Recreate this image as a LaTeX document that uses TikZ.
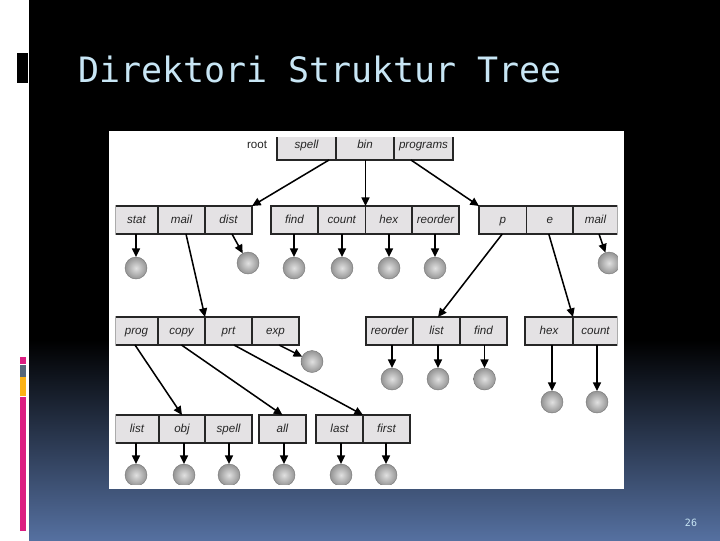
\documentclass[tikz,border=0pt]{standalone}
\usepackage{fontspec}
\setmainfont{Liberation Sans}
\newfontfamily\titlefont{DejaVu Sans Mono}
\usetikzlibrary{arrows.meta,shadings}
\definecolor{slideblue}{HTML}{5570A0}
\definecolor{titleblue}{HTML}{C8E6F5}
\definecolor{cellfill}{HTML}{E4E2E4}
\definecolor{barpink}{HTML}{DC1E82}
\definecolor{bargrey}{HTML}{56677A}
\definecolor{barorange}{HTML}{FCB316}
\def\px{0.75pt}
\tikzset{
  cellbox/.style={draw=black!85,line width=0.9pt,fill=cellfill,inner sep=0pt,outer sep=0pt,
    font=\fontsize{8.7}{10}\selectfont\itshape,text=black!85,text height=6.5pt,text depth=1.8pt},
  ballnode/.style={circle,draw=black!55,line width=0.3pt,inner sep=0pt,outer sep=0pt,minimum size=16.5pt,
    inner color=black!12,outer color=black!42},
  arr/.style={line width=1.15pt,draw=black,-{Triangle[length=6.5pt,width=6pt]},shorten >=0pt},
  flatbox/.style={draw=none,inner sep=0pt,outer sep=0pt}
}
\newcommand{\mycell}[6]{\node[cellbox,minimum width={(#3-#2)*0.75pt},minimum height={#5*0.75pt}] (#1) at ({(#2+#3)/2},{#4+#5/2}) {#6};}
\newcommand{\myball}[3]{\node[ballnode] (#1) at (#2,#3) {};}
\begin{document}
\begin{tikzpicture}[x=0.75pt,y=-0.75pt]
\useasboundingbox (0,0) rectangle (720,540);
% slide background
\fill[white] (0,0) rectangle (720,540);
\fill[black] (29,0) rectangle (720,341);
\shade[top color=black,bottom color=slideblue] (29,340) rectangle (720,540);
\fill[black] (17,53) rectangle (28,83);
\fill[barpink] (20,357) rectangle (26,364);
\fill[bargrey] (20,365) rectangle (26,377);
\fill[barorange] (20,377) rectangle (26,396);
\fill[barpink] (20,397) rectangle (26,531);
\node[flatbox,anchor=base west,text=titleblue,font=\titlefont\fontsize{26.2}{30}\selectfont] (title) at (78,82) {Direktori Struktur Tree};
\node[flatbox,text=titleblue,font=\titlefont\fontsize{7.5}{9}\selectfont] (pagenum) at (691,523) {26};
% white figure panel
\fill[white] (109,131) rectangle (624,489);
\begin{scope}
\clip (115.7,137.7) rectangle (617.3,484);
% row 1
\mycell{spell}{277}{336}{131}{29}{spell}
\mycell{bin}{336}{394}{131}{29}{bin}
\mycell{programs}{394}{453}{131}{29}{programs}
% row 2
\mycell{stat}{115}{158}{206}{28}{stat}
\mycell{mailA}{158}{205}{206}{28}{mail}
\mycell{dist}{205}{252}{206}{28}{dist}
\mycell{findA}{271}{318}{206}{28}{find}
\mycell{countA}{318}{365.5}{206}{28}{count}
\mycell{hexA}{365.5}{412}{206}{28}{hex}
\mycell{reorderA}{412}{459}{206}{28}{reorder}
\mycell{p}{479}{526.5}{206}{28}{p}
\mycell{e}{526.5}{573}{206}{28}{e}
\mycell{mailB}{573}{618}{206}{28}{mail}
% row 3
\mycell{prog}{115}{158}{317}{28}{prog}
\mycell{copy}{158}{205}{317}{28}{copy}
\mycell{prt}{205}{252}{317}{28}{prt}
\mycell{exp}{252}{299}{317}{28}{exp}
\mycell{reorderB}{366}{413}{317}{28}{reorder}
\mycell{listB}{413}{460}{317}{28}{list}
\mycell{findB}{460}{507}{317}{28}{find}
\mycell{hexB}{525}{573}{317}{28}{hex}
\mycell{countB}{573}{618}{317}{28}{count}
% row 4
\mycell{listC}{115}{159}{415}{28}{list}
\mycell{obj}{159}{205}{415}{28}{obj}
\mycell{spellC}{205}{252}{415}{28}{spell}
\mycell{all}{259}{306}{415}{28}{all}
\mycell{last}{316}{363}{415}{28}{last}
\mycell{first}{363}{410}{415}{28}{first}
% balls
\myball{b1}{136}{268}
\myball{b2}{248}{263}
\myball{b3}{294}{268}
\myball{b4}{342}{268}
\myball{b5}{389}{268}
\myball{b6}{435}{268}
\myball{b7}{609}{263}
\myball{b8}{312}{361.5}
\myball{b9}{392}{379}
\myball{b10}{438}{379}
\myball{b11}{484.5}{379}
\myball{b12}{552}{402}
\myball{b13}{597}{402}
\myball{b14}{136}{475}
\myball{b15}{184}{475}
\myball{b16}{229}{475}
\myball{b17}{284}{475}
\myball{b18}{341}{475}
\myball{b19}{386}{475}
% connectors
\draw[arr] ([xshift=-7*\px]bin.south west) -- (dist.north east);
\draw[arr] (bin.south east |- bin.south) ++(0,0) (bin.south) ++(0,0) (bin.south -| countA.north east) -- (countA.north east);
\draw[arr] ([xshift=17*\px]programs.south west) -- (p.north west);
\draw[arr] ([xshift=4.5*\px]mailA.south) -- (prt.north west);
\draw[arr] ([xshift=3.5*\px]dist.south) -- (b2);
\draw[arr] ([xshift=-0.5*\px]p.south) -- ([xshift=1.5*\px]listB.north);
\draw[arr] ([xshift=-1*\px]e.south) -- (hexB.north east);
\draw[arr] ([xshift=3.5*\px]mailB.south) -- (b7);
\draw[arr] ([xshift=-1.5*\px]prog.south) -- (obj.north);
\draw[arr] (copy.south) -- (all.north);
\draw[arr] ([xshift=5.5*\px]prt.south) -- (last.north east);
\draw[arr] ([xshift=3.5*\px]exp.south) -- (b8);
\foreach \c/\b in {stat/b1,findA/b3,countA/b4,hexA/b5,reorderA/b6,reorderB/b9,listB/b10,findB/b11,hexB/b12,countB/b13,listC/b14,obj/b15,spellC/b16,all/b17,last/b18,first/b19}
  \draw[arr] (\b |- \c.south) -- (\b);
\end{scope}
\node[flatbox,font=\fontsize{8.7}{10}\selectfont,text=black!85] (root) at (257,145) {root};
\end{tikzpicture}
\end{document}
